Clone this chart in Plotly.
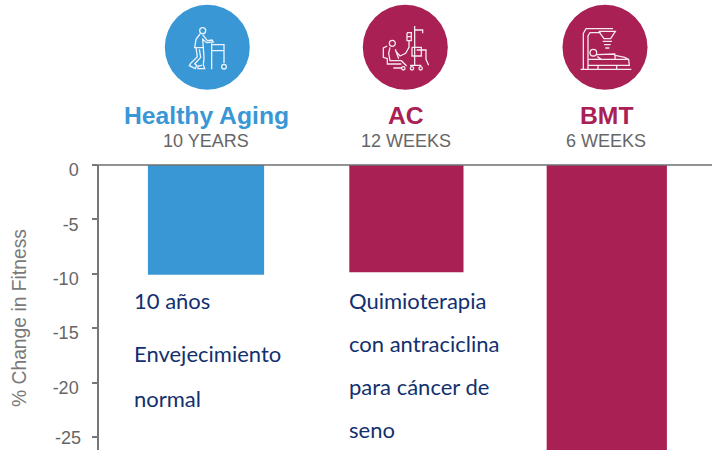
import plotly.graph_objects as go

categories = ["Healthy Aging", "AC", "BMT"]
durations = ["10 YEARS", "12 WEEKS", "6 WEEKS"]
fitness_change = [-10.1, -9.85, -27]
bar_widths = [0.58, 0.57, 0.6]
bar_colors = ["#3a97d6", "#a82054", "#a82054"]
header_colors = ["#3a97d6", "#a82054", "#a82054"]
tick_values = [0, -5, -10, -15, -20, -25]
tick_labels = ["0", "-5", "-10", "-15", "-20", "-25"]
notes_aging = ["10 años", "Envejecimiento", "normal"]
notes_ac = ["Quimioterapia", "con antraciclina", "para cáncer de", "seno"]
y_title = "% Change in Fitness"

W, H = 712, 450
L, T = 99, 165
PW, PH = W - L, H - T


def px(x):
    return (x - L) / PW


def py(y):
    return (H - y) / PH


fig = go.Figure(go.Bar(x=categories, y=fitness_change, width=bar_widths,
                       marker=dict(color=bar_colors, line=dict(width=0)),
                       hoverinfo="skip"))

shapes = []
annotations = []


def circle(cx, cy, r, fill=None, color=None, w=1.3):
    shapes.append(dict(type="circle", xref="paper", yref="paper",
                       x0=px(cx - r), x1=px(cx + r), y0=py(cy + r), y1=py(cy - r),
                       fillcolor=fill if fill else "rgba(0,0,0,0)",
                       line=dict(color=color if color else "rgba(0,0,0,0)", width=w if color else 0),
                       layer="above"))


def icon_path(ox, oy, pts, w=1.3):
    """pts: list of polylines in 3x zoom coordinates relative to crop origin."""
    d = ""
    for line in pts:
        d += "M" + " L".join(f"{px(ox + a / 3):.5f},{py(oy + b / 3):.5f}" for a, b in line) + " "
    shapes.append(dict(type="path", xref="paper", yref="paper", path=d,
                       line=dict(color="rgba(255,255,255,0.9)", width=w), layer="above"))


def icon_circ(ox, oy, a, b, r):
    circle(ox + a / 3, oy + b / 3, r / 3, color="rgba(255,255,255,0.9)")


# Healthy Aging badge: person with a walker
circle(207.3, 47.3, 42.5, fill="#3a97d6")
ox, oy = 160, 0
icon_circ(ox, oy, 128, 92, 9)
icon_path(ox, oy, [
    [(120, 102), (108, 118), (104, 143), (130, 143), (128, 118), (140, 128), (160, 126), (156, 120), (142, 122), (128, 104)],
    [(108, 143), (112, 170), (92, 190), (88, 197), (106, 206), (110, 196), (104, 192), (122, 172), (118, 148)],
    [(130, 143), (132, 175), (130, 194), (134, 206), (114, 206), (114, 198), (126, 196)],
    [(155, 130), (155, 208)],
    [(155, 134), (192, 134), (192, 190)],
    [(155, 152), (192, 152)],
])
icon_circ(ox, oy, 192, 200, 7)

# AC badge: patient in a chair with an infusion stand
circle(405.3, 47.3, 42.5, fill="#a82054")
ox, oy = 358, 0
icon_circ(ox, oy, 103, 130, 9)
icon_path(ox, oy, [
    [(170, 78), (170, 196)],
    [(170, 90), (194, 90), (194, 100)],
    [(147, 98), (160, 98), (160, 122), (147, 122), (147, 98)],
    [(147, 110), (160, 110)],
    [(153, 122), (153, 142), (143, 160), (126, 168), (112, 152)],
    [(162, 142), (190, 142), (190, 168), (162, 168), (162, 142)],
    [(176, 150), (204, 150), (204, 178), (212, 196)],
    [(96, 142), (92, 160), (96, 182), (130, 182), (146, 198)],
    [(112, 148), (122, 176)],
    [(88, 138), (76, 144), (76, 172), (88, 176), (88, 192), (130, 192)],
    [(106, 204), (132, 204)],
    [(156, 196), (190, 196)],
])
icon_circ(ox, oy, 136, 205, 5)
icon_circ(ox, oy, 162, 205, 5)
icon_circ(ox, oy, 188, 205, 5)

# BMT badge: patient under an irradiator
circle(605, 47.3, 42.5, fill="#a82054")
ox, oy = 558, 0
icon_circ(ox, oy, 106, 158, 10)
icon_path(ox, oy, [
    [(68, 208), (220, 208)],
    [(76, 208), (76, 100), (84, 86), (165, 86)],
    [(90, 208), (90, 108), (96, 98), (128, 98)],
    [(122, 94), (172, 94), (158, 116), (138, 116), (122, 94)],
    [(134, 124), (162, 124)],
    [(138, 134), (158, 134)],
    [(142, 144), (154, 144)],
    [(116, 164), (170, 162), (172, 178), (130, 178), (118, 170)],
    [(172, 166), (200, 172), (212, 178), (214, 196), (90, 196)],
    [(90, 178), (130, 178)],
    [(172, 178), (212, 178)],
    [(120, 196), (120, 208)],
    [(176, 196), (176, 208)],
])

# Header labels above the plot
for center, name, dur, col in zip([206, 405.5, 606], categories, durations, header_colors):
    annotations.append(dict(text=f"<b>{name}</b>", xref="paper", yref="paper", x=px(center), y=py(116),
                            xanchor="center", yanchor="middle", showarrow=False,
                            font=dict(family="Liberation Sans", size=24.7, color=col)))
    annotations.append(dict(text=dur, xref="paper", yref="paper", x=px(center), y=py(140.5),
                            xanchor="center", yanchor="middle", showarrow=False,
                            font=dict(family="Liberation Sans", size=18, color="#666666")))

# Overlaid notes
for lines, x0, ys in [(notes_aging, 134, [300, 353, 398]), (notes_ac, 349, [300, 343, 386, 429])]:
    for line, yy in zip(lines, ys):
        annotations.append(dict(text=line, xref="paper", yref="paper", x=px(x0), y=py(yy),
                                xanchor="left", xshift=-2, yanchor="middle", showarrow=False,
                                font=dict(family="Lato", size=22, color="#12306e")))

annotations.append(dict(text=y_title, xref="paper", yref="paper", x=px(19), y=py(318),
                        xanchor="center", yanchor="middle", textangle=-90, showarrow=False,
                        font=dict(family="Liberation Sans", size=19.3, color="#7a7a7a")))

# The lowest tick label sits tight against the bottom edge, where the axis would drop it
annotations.append(dict(text=tick_labels[-1], xref="paper", yref="y", x=px(83), y=tick_values[-1],
                        xanchor="right", yanchor="middle", yshift=-1, showarrow=False,
                        font=dict(family="Liberation Sans", size=18, color="#666666")))

fig.update_layout(
    width=W, height=H, autosize=False,
    margin=dict(l=L, r=0, t=T, b=0, pad=0),
    paper_bgcolor="white", plot_bgcolor="white",
    showlegend=False, shapes=shapes, annotations=annotations,
    xaxis=dict(type="category", categoryorder="array", categoryarray=categories,
               range=[-0.534, 2.525], showticklabels=False, ticks="", showgrid=False,
               zeroline=False, showline=False, side="top"),
    yaxis=dict(range=[-26.2, 0], tickvals=tick_values, ticktext=tick_labels[:-1] + [" "],
               ticks="outside", ticklen=5, tickcolor="#777777", tickwidth=1.5,
               ticklabelstandoff=10, ticklabelshift=5,
               tickfont=dict(family="Liberation Sans", size=18, color="#666666"),
               showline=True, linecolor="#777777", linewidth=1.5, showgrid=False, zeroline=False),
)
fig.add_shape(type="line", xref="paper", yref="paper", x0=px(95), x1=1, y0=1, y1=1,
              line=dict(color="#6f6f6f", width=1.5), layer="above")

fig.write_html("out.html", config={"displayModeBar": False},
               post_script="document.body.style.margin='0';")
